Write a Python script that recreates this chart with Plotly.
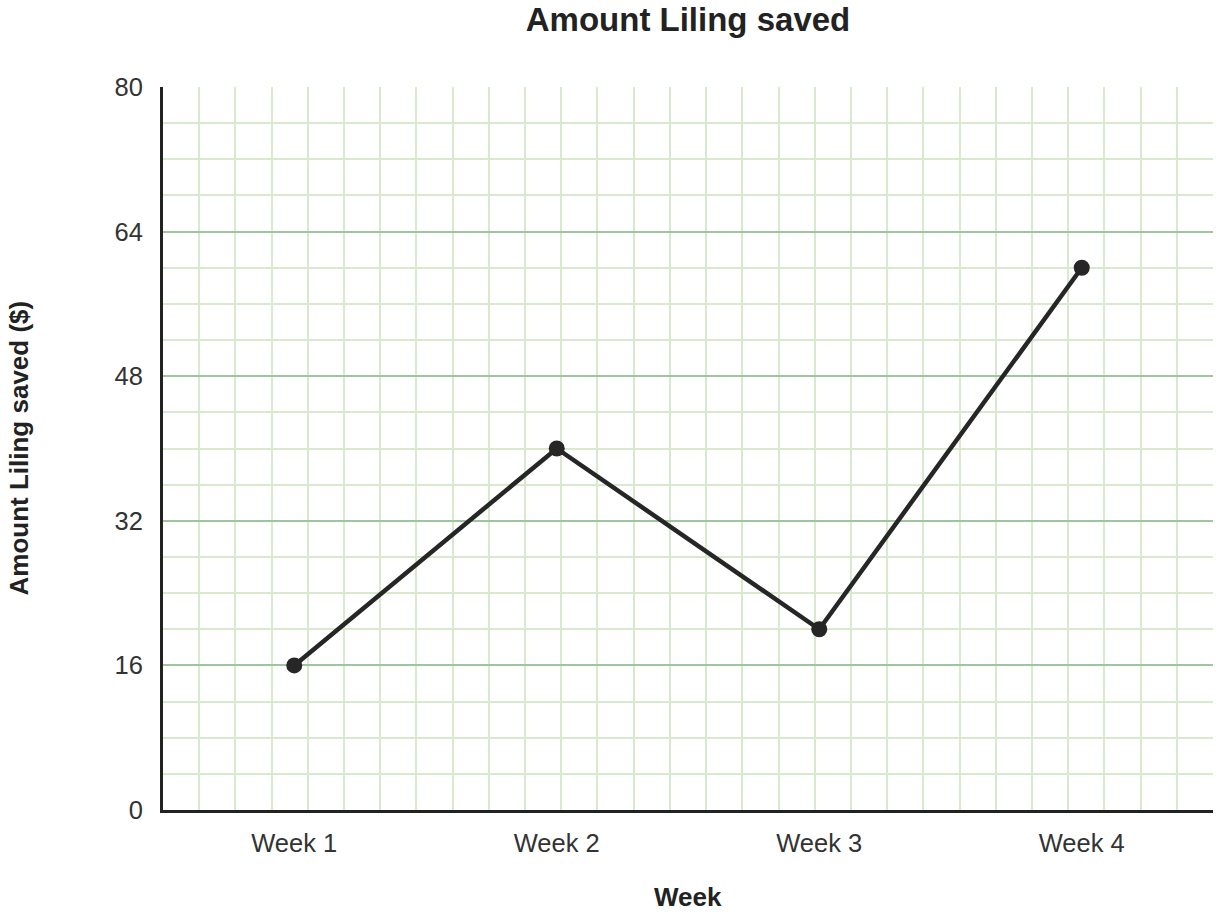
import plotly.graph_objects as go

# dados do gráfico
semanas = ["Week 1", "Week 2", "Week 3", "Week 4"]
valores = [16, 40, 20, 60]
marcas_y = [0, 16, 32, 48, 64, 80]

posicoes = list(range(len(semanas)))

fonte = "Liberation Sans, Arial, sans-serif"
cor_texto = "#222222"
verde_forte = "#9fc59c"
verde_claro = "#d8e9cd"

LARG, ALT = 1221, 913

fig = go.Figure()

fig.add_trace(go.Scatter(
    x=posicoes,
    y=valores,
    mode="lines+markers",
    line=dict(color="#262626", width=4.5),
    marker=dict(color="#262626", size=16),
    showlegend=False,
    hoverinfo="x+y",
))

fig.update_layout(
    width=LARG,
    height=ALT,
    margin=dict(l=163, r=8, t=87, b=103),
    paper_bgcolor="white",
    plot_bgcolor="white",
    font=dict(family=fonte, color=cor_texto),
    title=dict(
        text="<b>Amount Liling saved</b>",
        font=dict(size=33, color=cor_texto),
        x=0.5, xref="paper", xanchor="center",
        y=1 - 19.5 / ALT, yref="container", yanchor="middle",
    ),
)

# títulos dos eixos como anotações (o standoff fica preso às margens)
fig.add_annotation(
    text="<b>Week</b>", font=dict(size=26, color=cor_texto),
    xref="paper", yref="paper", x=0.5, y=0,
    xanchor="center", yanchor="middle", yshift=-87, showarrow=False,
)
fig.add_annotation(
    text="<b>Amount Liling saved ($)</b>", font=dict(size=26, color=cor_texto),
    xref="paper", yref="paper", x=0, y=0.5, textangle=-90,
    xanchor="center", yanchor="middle", xshift=-145, showarrow=False,
)

fig.update_xaxes(
    range=[-0.5, 3.5 + 1e-6],  # folga mínima para a última linha da grade aparecer
    tickmode="array",
    tickvals=posicoes,
    ticktext=semanas,
    tickfont=dict(size=25.5, color="#333333"),
    ticklabelstandoff=8,
    showgrid=False,
    zeroline=False,
    showline=True,
    linecolor="#222222",
    linewidth=3,
    minor=dict(
        tickmode="linear",
        tick0=-0.5,
        dtick=4 / 29,
        showgrid=True,
        gridcolor=verde_claro,
        gridwidth=2,
    ),
    automargin=False,
    fixedrange=True,
)

fig.update_yaxes(
    range=[0, 80],
    tickmode="array",
    tickvals=marcas_y,
    tickfont=dict(size=25.5, color="#333333"),
    ticklabelstandoff=12,
    showgrid=True,
    gridcolor=verde_forte,
    gridwidth=2,
    zeroline=False,
    showline=True,
    linecolor="#222222",
    linewidth=3,
    minor=dict(
        tickmode="linear",
        tick0=0,
        dtick=4,
        showgrid=True,
        gridcolor=verde_claro,
        gridwidth=2,
    ),
    automargin=False,
    fixedrange=True,
)

# tira a margem padrão do body para a figura ocupar a janela toda
fig.write_html(
    "out.html",
    config={"displayModeBar": False},
    post_script="document.body.style.margin='0px';",
)
